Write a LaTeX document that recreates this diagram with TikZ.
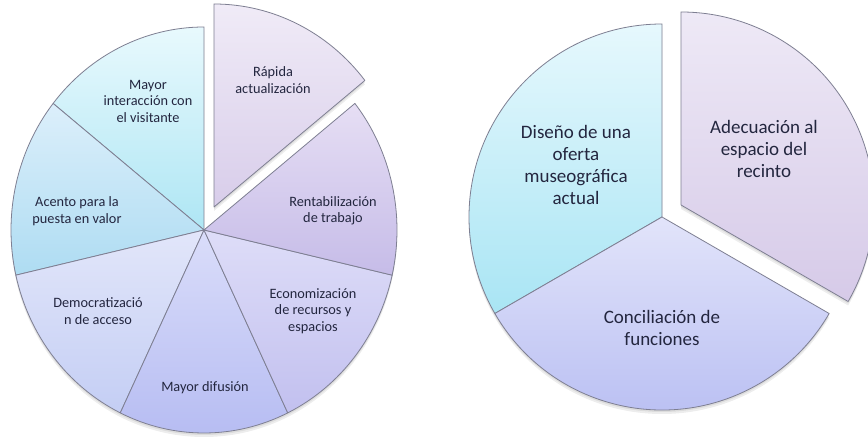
\documentclass[tikz,border=0pt]{standalone}
\usepackage{fontspec}
\setmainfont{Carlito}
\definecolor{txt}{HTML}{23263F}
\definecolor{edge}{HTML}{7E7F92}
\definecolor{aT}{HTML}{E8F9FD}\definecolor{aB}{HTML}{AEE6F4}
\definecolor{bT}{HTML}{DCEFFB}\definecolor{bB}{HTML}{AEDCF2}
\definecolor{cT}{HTML}{E2E6FA}\definecolor{cB}{HTML}{C4CEF4}
\definecolor{dT}{HTML}{DADDFA}\definecolor{dB}{HTML}{B6BCF2}
\definecolor{eT}{HTML}{DEDDF8}\definecolor{eB}{HTML}{C2C0EF}
\definecolor{fT}{HTML}{E6DEF4}\definecolor{fB}{HTML}{C6BCE8}
\definecolor{gT}{HTML}{F0EBF7}\definecolor{gB}{HTML}{D8CDEA}
\definecolor{hT}{HTML}{E6F8FD}\definecolor{hB}{HTML}{A9E5F4}
\definecolor{iT}{HTML}{E2E4FA}\definecolor{iB}{HTML}{B6BCF2}
\definecolor{jT}{HTML}{EEE9F6}\definecolor{jB}{HTML}{D6CAE8}
\tikzset{
  slice/.style={draw=edge, line width=0.8pt, line join=round},
  shad/.style={fill=black, opacity=0.07},
  lbl/.style={text=txt, align=center, inner sep=0pt, font=\fontsize{14.3}{16.5}\selectfont},
  biglbl/.style={text=txt, align=center, inner sep=0pt, font=\fontsize{19}{21.7}\selectfont},
}
\begin{document}
\begin{tikzpicture}[x=1pt,y=1pt]
\useasboundingbox (0,0) rectangle (868,441);
\fill[white] (0,0) rectangle (868,441);
% ---------- left pie ----------
\coordinate (L) at (204,211);
\coordinate (LX) at (214,234);
\def\rx{193}\def\ry{203}
% shadows
\foreach \dy in {2,4}{
  \fill[shad] ([yshift=-\dy pt]L) -- ++(90:\rx pt and \ry pt) arc[start angle=90, end angle=398.57, x radius=\rx, y radius=\ry] -- cycle;
  \fill[shad] ([yshift=-\dy pt]LX) -- ++(38.57:\rx pt and \ry pt) arc[start angle=38.57, end angle=90, x radius=\rx, y radius=\ry] -- cycle;
}
\path[slice, top color=aT, bottom color=aB]
  (L) -- ++(90:\rx pt and \ry pt) arc[start angle=90, end angle=141.43, x radius=\rx, y radius=\ry] -- cycle;
\path[slice, top color=bT, bottom color=bB]
  (L) -- ++(141.43:\rx pt and \ry pt) arc[start angle=141.43, end angle=192.86, x radius=\rx, y radius=\ry] -- cycle;
\path[slice, top color=cT, bottom color=cB]
  (L) -- ++(192.86:\rx pt and \ry pt) arc[start angle=192.86, end angle=244.29, x radius=\rx, y radius=\ry] -- cycle;
\path[slice, top color=dT, bottom color=dB]
  (L) -- ++(244.29:\rx pt and \ry pt) arc[start angle=244.29, end angle=295.71, x radius=\rx, y radius=\ry] -- cycle;
\path[slice, top color=eT, bottom color=eB]
  (L) -- ++(295.71:\rx pt and \ry pt) arc[start angle=295.71, end angle=347.14, x radius=\rx, y radius=\ry] -- cycle;
\path[slice, top color=fT, bottom color=fB]
  (L) -- ++(347.14:\rx pt and \ry pt) arc[start angle=347.14, end angle=398.57, x radius=\rx, y radius=\ry] -- cycle;
\path[slice, top color=gT, bottom color=gB]
  (LX) -- ++(38.57:\rx pt and \ry pt) arc[start angle=38.57, end angle=90, x radius=\rx, y radius=\ry] -- cycle;
\node[lbl] (t1) at (148,340) {Mayor\\interacción con\\el visitante};
\node[lbl] (t2) at (273,361) {Rápida\\actualización};
\node[lbl] (t3) at (333,230) {Rentabilización\\de trabajo};
\node[lbl] (t4) at (313,130) {Economización\\de recursos y\\espacios};
\node[lbl] (t5) at (205,53) {Mayor difusión};
\node[lbl] (t6) at (98,130) {Democratizació\\n de acceso};
\node[lbl] (t7) at (77,230) {Acento para la\\puesta en valor};
% ---------- right pie ----------
\coordinate (R) at (662,224);
\coordinate (RX) at (681,236);
\def\Rr{193}
\foreach \dy in {2,4}{
  \fill[shad] ([yshift=-\dy pt]R) -- ++(90:\Rr) arc[start angle=90, end angle=330, radius=\Rr] -- cycle;
  \fill[shad] ([yshift=-\dy pt]RX) -- ++(-30:\Rr) arc[start angle=-30, end angle=90, radius=\Rr] -- cycle;
}
\path[slice, top color=hT, bottom color=hB]
  (R) -- ++(90:\Rr) arc[start angle=90, end angle=210, radius=\Rr] -- cycle;
\path[slice, top color=iT, bottom color=iB]
  (R) -- ++(210:\Rr) arc[start angle=210, end angle=330, radius=\Rr] -- cycle;
\path[slice, top color=jT, bottom color=jB]
  (RX) -- ++(-30:\Rr) arc[start angle=-30, end angle=90, radius=\Rr] -- cycle;
\node[biglbl] (u1) at (576,276) {Diseño de una\\oferta\\museográfica\\actual};
\node[biglbl] (u2) at (764,292) {Adecuación al\\espacio del\\recinto};
\node[biglbl] (u3) at (662,113) {Conciliación de\\funciones};
\end{tikzpicture}
\end{document}
